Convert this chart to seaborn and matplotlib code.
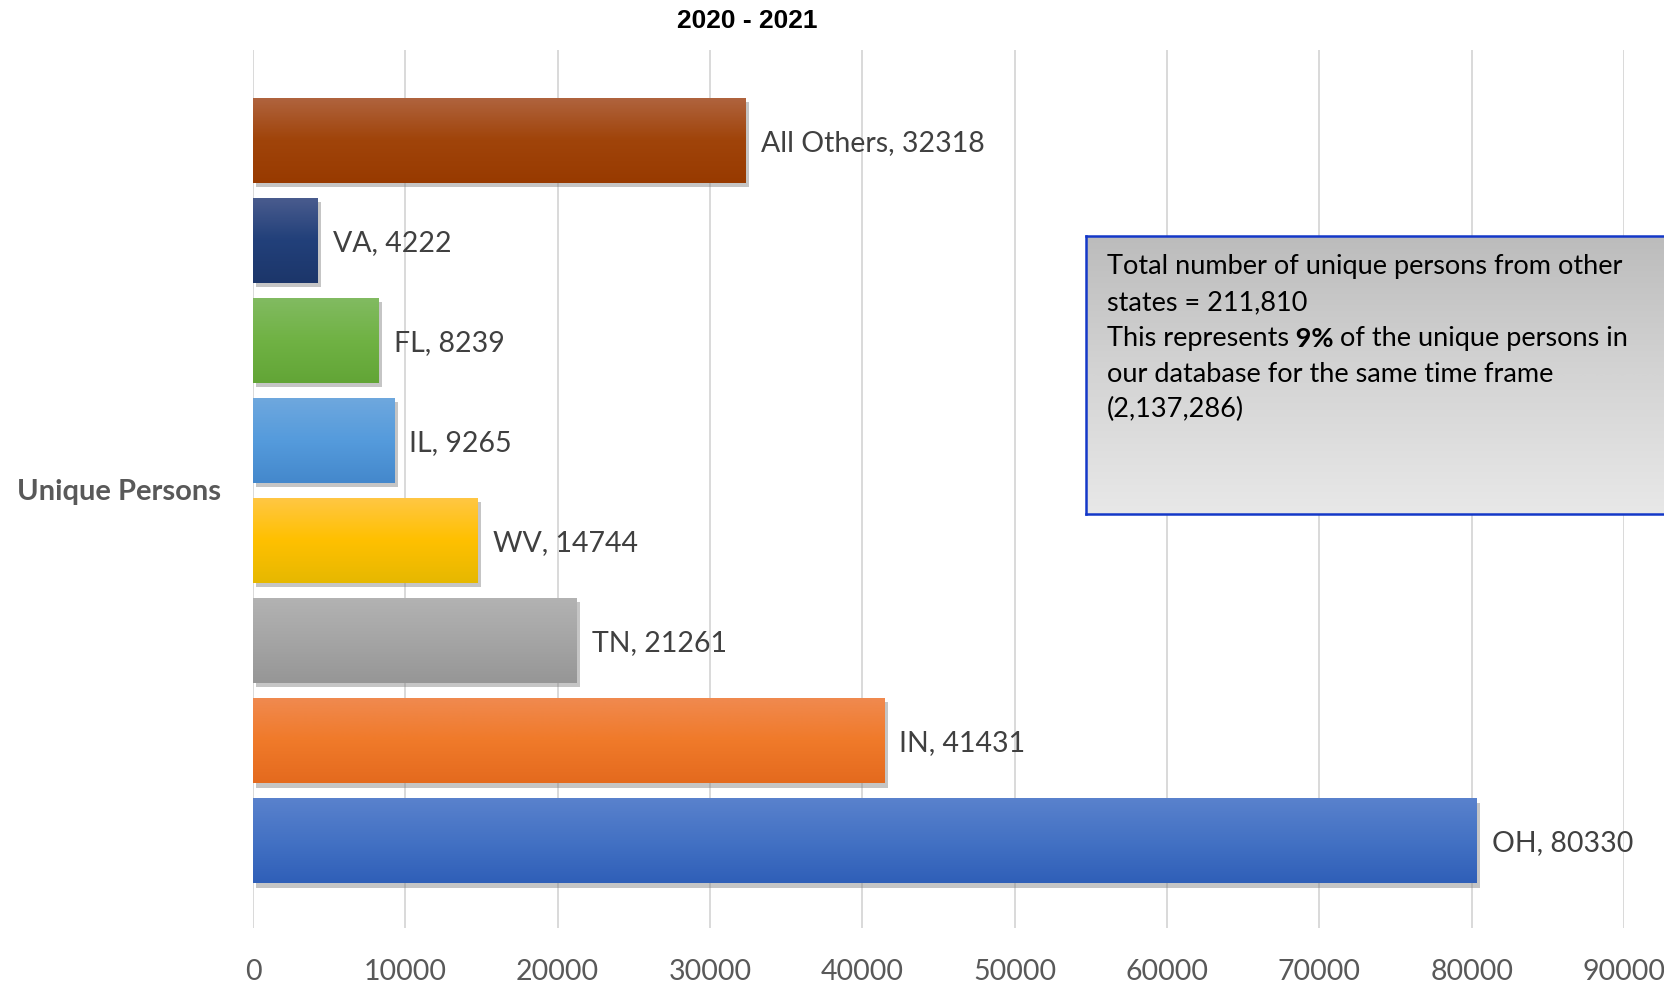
import numpy as np
import matplotlib
matplotlib.use("Agg")
import matplotlib.pyplot as plt
import matplotlib.patheffects as pe
from matplotlib.colors import to_rgb
import seaborn as sns

# data
states = ["All Others", "VA", "FL", "IL", "WV", "TN", "IN", "OH"]
persons = [32318, 4222, 8239, 9265, 14744, 21261, 41431, 80330]
xticks = [0, 10000, 20000, 30000, 40000, 50000, 60000, 70000, 80000, 90000]
title = "2020 - 2021"
axis_label = "Unique Persons"

# gradient stops per bar (top / middle / bottom)
grad_top = ["#B0643F", "#4A5C8E", "#82BB62", "#6FA8DE", "#FFC745", "#B3B3B3", "#F08A50", "#5A82CD"]
grad_mid = ["#A0440A", "#22407A", "#70B244", "#559BDC", "#FFC000", "#A5A5A5", "#F07A2A", "#4472C4"]
grad_bot = ["#983A00", "#1C366A", "#62A536", "#4488CC", "#E6B800", "#969696", "#E46A1E", "#2F5FB8"]

note_lines = ["Total number of unique persons from other",
              "states = 211,810",
              None,
              "our database for the same time frame",
              "(2,137,286)"]
note_mixed = ["This represents", " 9%", " of the unique persons in"]

W, H = 1665, 986
sns.set_theme(style="white")
plt.rcParams["font.family"] = ["Lato", "DejaVu Sans"]

fig = plt.figure(figsize=(W / 100, H / 100), dpi=100)
ax = fig.add_axes([253 / W, 1 - 928 / H, (1624 - 253) / W, (928 - 50) / H])

sns.barplot(x=persons, y=states, hue=states, palette=grad_mid, orient="h",
            width=0.85, saturation=1, legend=False, ax=ax, zorder=3, linewidth=0)


def gradient(c1, c2, c3, n=120):
    a, b, c = np.array(to_rgb(c1)), np.array(to_rgb(c2)), np.array(to_rgb(c3))
    half = n // 2
    t1 = np.linspace(0, 1, half)[:, None]
    t2 = np.linspace(0, 1, n - half)[:, None]
    rows = np.vstack([a + (b - a) * t1, b + (c - b) * t2])
    return rows[:, None, :]


for p in ax.patches:
    x0, y0, w, h = p.get_x(), p.get_y(), p.get_width(), p.get_height()
    i = int(round(y0 + h / 2))
    p.set_linewidth(0)
    p.set_path_effects([pe.SimplePatchShadow(offset=(2.5, -3), shadow_rgbFace="#808080", alpha=0.45),
                        pe.Normal()])
    img = ax.imshow(gradient(grad_top[i], grad_mid[i], grad_bot[i]),
                    extent=[x0, x0 + w, y0 + h, y0], aspect="auto",
                    interpolation="bilinear", zorder=3.5)
    img.set_clip_path(p)

for i, (s, v) in enumerate(zip(states, persons)):
    ax.annotate(f"{s}, {v}", xy=(v, i), xytext=(11, -1.8), textcoords="offset points",
                va="center", ha="left", fontsize=20.5, color="#404040")

ax.set_xlim(0, 90000)
ax.set_ylim(7.87, -0.9)
ax.set_xticks(xticks)
ax.set_xticklabels([str(t) for t in xticks], fontsize=20.5, color="#595959")
ax.set_yticks([])
ax.set_xlabel("")
ax.set_ylabel("")
ax.tick_params(axis="x", length=0, pad=22.5)
ax.grid(axis="x", color="#D9D9D9", linewidth=1.4, zorder=0)
ax.set_axisbelow(True)
for sp in ax.spines.values():
    sp.set_visible(False)

fig.text(747 / W, 1 - 21 / H, title, ha="center", va="center",
         fontsize=19, fontweight="bold", family="Liberation Sans", color="black")
fig.text(119 / W, 1 - 492 / H, axis_label, ha="center", va="center",
         fontsize=21, fontweight="bold", color="#595959")

# note box
box = fig.add_axes([1086 / W, 1 - 514 / H, (W - 1086 + 20) / W, (514 - 236) / H], zorder=5)
box.imshow(gradient("#BCBCBC", "#D4D4D4", "#E8E8E8"), extent=[0, 1, 0, 1],
           aspect="auto", interpolation="bilinear")
box.set_xlim(0, 1)
box.set_ylim(0, 1)
box.set_xticks([])
box.set_yticks([])
for sp in box.spines.values():
    sp.set_color("#1438C8")
    sp.set_linewidth(1.8)

note_size = 19.5
line_y = [267, 302.5, 338.5, 374, 409]
for ly, txt in zip(line_y, note_lines):
    if txt is None:
        continue
    fig.text(1107 / W, 1 - ly / H, txt, ha="left", va="center", fontsize=note_size,
             color="black", zorder=6)

t1 = fig.text(1107 / W, 1 - line_y[2] / H, note_mixed[0], ha="left", va="center",
              fontsize=note_size, color="black", zorder=6)
t2 = box.annotate(note_mixed[1], xy=(1, 0), xycoords=t1, va="bottom", ha="left",
                  fontsize=note_size, fontweight="bold", color="black", annotation_clip=False)
box.annotate(note_mixed[2], xy=(1, 0), xycoords=t2, va="bottom", ha="left",
             fontsize=note_size, color="black", annotation_clip=False)

fig.savefig("out.png", dpi=100)
